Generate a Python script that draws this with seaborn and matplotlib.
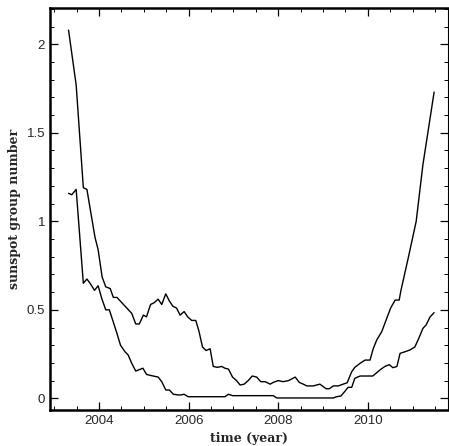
import numpy as np
import pandas as pd
import matplotlib
matplotlib.use("Agg")
import matplotlib.pyplot as plt
import seaborn as sns
from matplotlib.ticker import MultipleLocator

# upper curve (year, sunspot group number)
upper_year = [2003.32, 2003.49, 2003.65, 2003.73, 2003.85, 2003.91, 2003.98, 2004.07, 2004.15, 2004.25,
              2004.32, 2004.40, 2004.62, 2004.73, 2004.82, 2004.90, 2004.99, 2005.06, 2005.15, 2005.23,
              2005.32, 2005.40, 2005.49, 2005.57, 2005.65, 2005.73, 2005.81, 2005.90, 2005.98, 2006.07,
              2006.16, 2006.23, 2006.31, 2006.39, 2006.48, 2006.55, 2006.64, 2006.74, 2006.81, 2006.89,
              2006.98, 2007.07, 2007.15, 2007.24, 2007.33, 2007.42, 2007.52, 2007.61, 2007.71, 2007.82,
              2007.89, 2008.00, 2008.11, 2008.23, 2008.38, 2008.47, 2008.56, 2008.64, 2008.78, 2008.93,
              2009.07, 2009.14, 2009.23, 2009.34, 2009.45, 2009.54, 2009.64, 2009.71, 2009.84, 2009.94,
              2010.05, 2010.12, 2010.20, 2010.31, 2010.42, 2010.51, 2010.61, 2010.70, 2010.74, 2010.90,
              2011.08, 2011.23, 2011.34, 2011.48]
upper_val = [2.08, 1.77, 1.19, 1.18, 1.00, 0.91, 0.84, 0.685, 0.63, 0.62,
             0.57, 0.57, 0.51, 0.48, 0.42, 0.42, 0.47, 0.46, 0.53, 0.54,
             0.56, 0.53, 0.59, 0.55, 0.52, 0.51, 0.47, 0.49, 0.46, 0.44,
             0.44, 0.38, 0.29, 0.27, 0.28, 0.18, 0.175, 0.18, 0.17, 0.165,
             0.12, 0.10, 0.075, 0.08, 0.10, 0.126, 0.12, 0.094, 0.094, 0.08,
             0.09, 0.10, 0.094, 0.10, 0.12, 0.09, 0.08, 0.07, 0.07, 0.08,
             0.054, 0.054, 0.07, 0.07, 0.08, 0.088, 0.15, 0.175, 0.20, 0.216,
             0.216, 0.28, 0.33, 0.376, 0.45, 0.51, 0.555, 0.555, 0.61, 0.79,
             1.00, 1.32, 1.50, 1.73]

# lower curve
lower_year = [2003.32, 2003.39, 2003.49, 2003.65, 2003.73, 2003.80, 2003.90, 2003.98, 2004.06, 2004.15,
              2004.23, 2004.32, 2004.40, 2004.48, 2004.58, 2004.65, 2004.73, 2004.82, 2004.88, 2004.98,
              2005.06, 2005.14, 2005.21, 2005.32, 2005.40, 2005.49, 2005.57, 2005.66, 2005.77, 2005.83,
              2005.90, 2005.99, 2006.81, 2006.89, 2006.98, 2007.89, 2007.97, 2009.23, 2009.30, 2009.40,
              2009.49, 2009.56, 2009.64, 2009.71, 2009.79, 2009.83, 2010.11, 2010.20, 2010.29, 2010.38,
              2010.48, 2010.56, 2010.65, 2010.72, 2010.83, 2010.94, 2011.05, 2011.14, 2011.23, 2011.30,
              2011.39, 2011.48]
lower_val = [1.158, 1.15, 1.18, 0.65, 0.674, 0.65, 0.61, 0.636, 0.565, 0.50,
             0.50, 0.43, 0.367, 0.30, 0.263, 0.245, 0.198, 0.154, 0.16, 0.17,
             0.135, 0.13, 0.126, 0.12, 0.094, 0.047, 0.047, 0.023, 0.019, 0.019,
             0.023, 0.009, 0.009, 0.023, 0.015, 0.015, 0.002, 0.002, 0.009, 0.013,
             0.04, 0.062, 0.062, 0.113, 0.122, 0.126, 0.126, 0.145, 0.164, 0.18,
             0.19, 0.173, 0.18, 0.254, 0.263, 0.273, 0.29, 0.34, 0.395, 0.414,
             0.46, 0.484]

xticks = [2004, 2006, 2008, 2010]
yticks = [0, 0.5, 1, 1.5, 2]
ytick_labels = ["0", "0.5", "1", "1.5", "2"]

sns.set_style("ticks")
plt.rcParams['font.family'] = ['Liberation Sans', 'DejaVu Sans']

fig = plt.figure(figsize=(4.49, 4.46), dpi=100)
ax = fig.add_axes([50 / 449, 1 - 410 / 446, 398 / 449, 402 / 446])

up = pd.DataFrame({"year": upper_year, "value": upper_val})
lo = pd.DataFrame({"year": lower_year, "value": lower_val})
sns.lineplot(data=up, x="year", y="value", ax=ax, color="black", linewidth=1.0)
sns.lineplot(data=lo, x="year", y="value", ax=ax, color="black", linewidth=1.0)

ax.set_xlim(2002.906, 2011.79)
ax.set_ylim(-0.066, 2.205)
ax.set_xticks(xticks)
ax.set_xticklabels([str(t) for t in xticks])
ax.set_yticks(yticks)
ax.set_yticklabels(ytick_labels)
ax.xaxis.set_minor_locator(MultipleLocator(0.5))
ax.yaxis.set_minor_locator(MultipleLocator(0.1))
ax.tick_params(which="both", direction="in", top=True, right=True, labelsize=9.5, color="black")
ax.tick_params(which="major", length=6, width=0.9)
ax.tick_params(which="minor", length=3, width=0.7)

for side in ["left", "bottom", "top"]:
    ax.spines[side].set_linewidth(1.8)
ax.spines["right"].set_linewidth(0.8)
for s in ax.spines.values():
    s.set_color("black")

ax.set_xlabel("time (year)", fontsize=9, fontweight="bold", family="DejaVu Serif")
ax.set_ylabel("sunspot group number", fontsize=9, fontweight="bold", family="DejaVu Serif")
ax.xaxis.set_label_coords(0.5, -0.054)
ax.yaxis.set_label_coords(-0.072, 0.5)

fig.savefig("out.png", dpi=100)
